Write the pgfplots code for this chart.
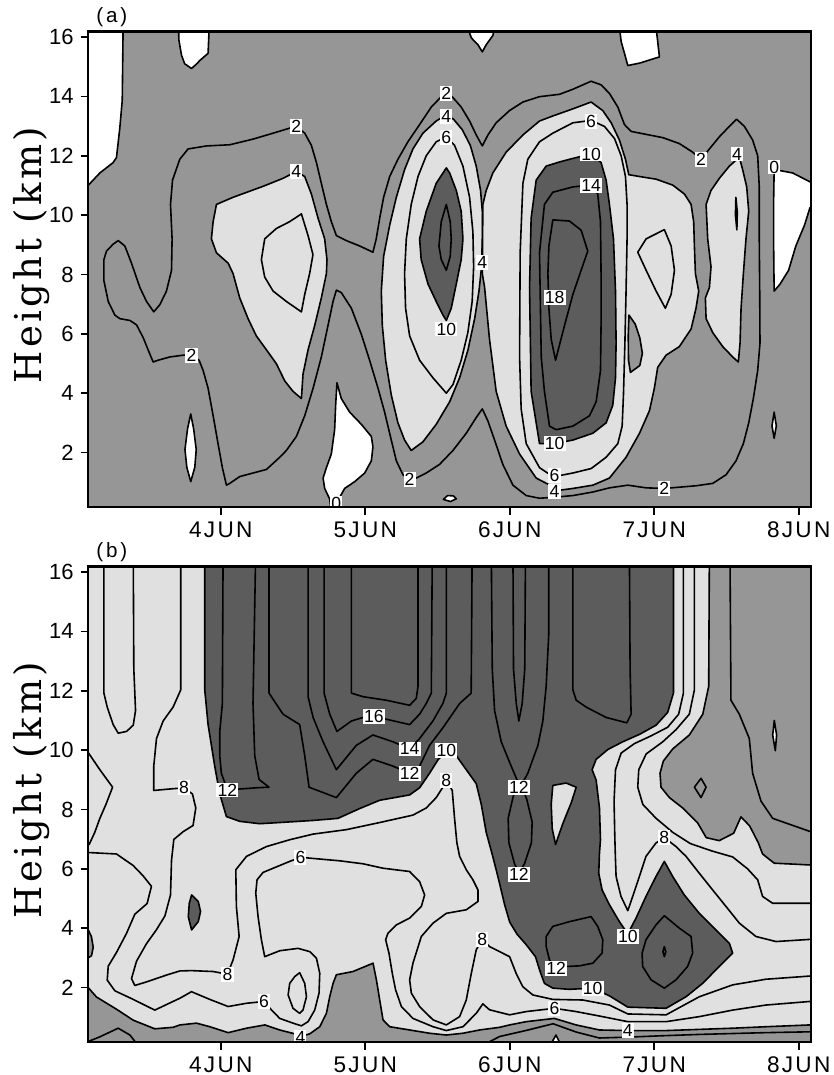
\documentclass[border=0pt]{standalone}
\usepackage{fontspec}
\setmainfont{Liberation Sans}
\newfontfamily\ylabfont[LetterSpace=9]{DejaVu Serif}
\newfontfamily\panfont[LetterSpace=14]{Liberation Sans}
\newfontfamily\xtickfont[LetterSpace=10]{Liberation Sans}
\usepackage{pgfplots}
\pgfplotsset{compat=1.18}
\definecolor{cLight}{gray}{0.88}
\definecolor{cMed}{gray}{0.59}
\definecolor{cDark}{gray}{0.36}
\tikzset{
 reg/.style={draw=black, line width=0.8pt, line join=round},
 ln/.style={draw=black, line width=0.8pt, line join=round},
 clab/.style={fill=white, inner sep=0.6pt, font=\fontsize{8.8}{10}\selectfont},
}
\pgfplotsset{
 panel/.style={
   scale only axis, width=361.2pt, height=237.8pt,
   xmin=3.083, xmax=8.083, ymin=0.155, ymax=16.18,
   xtick={4,5,6,7,8}, xticklabels={4JUN,5JUN,6JUN,7JUN,8JUN},
   ytick={2,4,6,8,10,12,14,16}, yticklabels={2,4,6,8,10,12,14,16},
   xtick pos=bottom, ytick pos=left, tick align=outside,
   major tick length=3.8pt,
   every tick/.style={black, line width=0.8pt},
   axis line style={line width=1.2pt},
   yticklabel style={font=\fontsize{11}{13}\selectfont},
   xticklabel style={font=\xtickfont\fontsize{11.3}{13}\selectfont},
   ylabel={\ylabfont\fontsize{18.5}{22}\selectfont Height (km)},
   ylabel style={at={(axis description cs:-0.078,0.53)}, anchor=center},
   axis on top, anchor=south west,
 },
}
\begin{document}
\begin{tikzpicture}
\path[use as bounding box] (0,0) rectangle (417pt,537.5pt);
%================ PANEL A =================
\begin{axis}[panel, name=pa, at={(44.15pt,283.85pt)}, axis background/.style={fill=cMed}]
% light regions (4 contour)
\addplot[reg, fill=cLight] coordinates {(3.970,10.36) (4.085,10.60) (4.293,10.97) (4.431,11.24) (4.523,11.47) (4.581,11.30) (4.627,10.71) (4.673,9.90) (4.719,9.20) (4.735,8.50) (4.731,8.03) (4.696,7.21) (4.650,6.28) (4.604,5.46) (4.569,4.64) (4.558,3.82) (4.500,4.06) (4.443,4.41) (4.385,4.99) (4.316,5.46) (4.246,5.93) (4.189,6.51) (4.131,7.21) (4.085,8.03) (4.051,8.38) (3.970,8.73) (3.935,9.20) (3.947,9.78)} -- cycle;
\addplot[reg, fill=cLight] coordinates {(5.561,13.38) (5.491,13.17) (5.399,12.76) (5.330,12.23) (5.272,11.53) (5.215,10.60) (5.169,9.66) (5.127,8.61) (5.111,7.44) (5.118,6.28) (5.141,5.11) (5.180,3.94) (5.226,3.00) (5.272,2.42) (5.318,2.07) (5.399,2.36) (5.491,2.95) (5.584,3.71) (5.653,4.52) (5.711,5.46) (5.757,6.51) (5.787,7.44) (5.805,8.26) (5.810,9.20) (5.810,10.13) (5.798,10.83) (5.768,11.65) (5.727,12.35) (5.671,12.88) (5.611,13.23)} -- cycle;
\addplot[reg, fill=cLight] coordinates {(5.810,8.03) (5.826,7.56) (5.860,5.81) (5.906,4.06) (5.975,2.89) (6.068,1.95) (6.183,1.14) (6.345,0.73) (6.437,0.79) (6.575,0.90) (6.690,1.14) (6.805,1.84) (6.898,2.65) (6.967,3.41) (7.001,4.17) (7.024,4.87) (7.082,5.28) (7.174,5.57) (7.255,6.16) (7.289,6.86) (7.308,7.44) (7.285,8.03) (7.278,8.96) (7.273,9.78) (7.255,10.36) (7.209,10.71) (7.128,11.01) (7.013,11.21) (6.898,11.30) (6.824,11.36) (6.801,11.88) (6.759,12.53) (6.702,13.11) (6.644,13.52) (6.563,13.81) (6.437,13.58) (6.298,13.34) (6.206,13.17) (6.091,12.70) (5.975,12.12) (5.883,11.42) (5.837,10.83) (5.814,10.36) (5.812,9.20)} -- cycle;
\addplot[reg, fill=cLight] coordinates {(7.589,11.95) (7.520,11.65) (7.451,11.24) (7.393,10.83) (7.359,10.36) (7.370,9.20) (7.393,8.26) (7.382,7.56) (7.354,7.21) (7.359,6.51) (7.405,6.04) (7.474,5.57) (7.543,5.22) (7.582,5.05) (7.594,5.69) (7.601,6.86) (7.617,8.03) (7.635,9.20) (7.654,10.13) (7.640,10.95) (7.612,11.53)} -- cycle;
% dark regions (10 contour)
\addplot[reg, fill=cDark] coordinates {(5.561,11.59) (5.491,11.07) (5.422,10.13) (5.376,9.20) (5.387,8.50) (5.434,7.68) (5.491,7.09) (5.538,6.63) (5.561,6.45) (5.595,6.86) (5.630,7.68) (5.664,8.50) (5.676,9.20) (5.664,10.13) (5.630,10.83) (5.584,11.42)} -- cycle;
\addplot[reg, fill=cDark] coordinates {(6.252,11.65) (6.344,11.79) (6.437,11.91) (6.563,12.06) (6.632,11.77) (6.667,11.18) (6.690,10.36) (6.718,9.20) (6.732,7.44) (6.736,5.69) (6.732,4.52) (6.713,3.59) (6.667,3.00) (6.575,2.65) (6.437,2.42) (6.310,2.30) (6.206,2.30) (6.148,4.06) (6.137,7.56) (6.148,9.90) (6.183,11.18)} -- cycle;
% medium patch
\addplot[reg, fill=cMed] coordinates {(6.825,6.63) (6.868,6.33) (6.900,5.87) (6.918,5.34) (6.900,4.93) (6.835,4.70) (6.822,5.11) (6.820,5.93)} -- cycle;
% white regions (0 contour)
\addplot[reg, fill=white] coordinates {(3.0,16.8) (3.0,10.95) (3.082,11.0) (3.163,11.42) (3.255,11.77) (3.278,11.94) (3.301,12.93) (3.318,13.87) (3.325,16.8)} -- cycle;
\addplot[reg, fill=white] coordinates {(3.705,16.8) (3.71,15.9) (3.728,15.39) (3.75,15.1) (3.797,14.94) (3.83,15.08) (3.855,15.21) (3.912,15.45) (3.924,16.8)} -- cycle;
\addplot[reg, fill=white] coordinates {(3.792,3.30) (3.812,2.8) (3.83,2.1) (3.82,1.5) (3.792,1.02) (3.765,1.5) (3.752,2.1) (3.77,2.8)} -- cycle;
\addplot[reg, fill=white] coordinates {(4.804,4.35) (4.834,3.82) (4.892,3.36) (4.973,2.95) (5.042,2.54) (5.053,2.19) (5.042,1.72) (4.996,1.31) (4.927,1.02) (4.857,0.79) (4.823,0.49) (4.811,-0.5) (4.777,-0.5) (4.754,0.43) (4.719,0.79) (4.708,1.14) (4.731,1.49) (4.765,1.95) (4.788,2.77) (4.795,3.59)} -- cycle;
\addplot[reg, fill=white] coordinates {(5.54,0.42) (5.57,0.55) (5.61,0.54) (5.63,0.44) (5.59,0.35)} -- cycle;
\addplot[reg, fill=white] coordinates {(5.676,16.8) (5.734,15.97) (5.78,15.74) (5.81,15.5) (5.837,15.74) (5.883,16.05) (5.918,16.8)} -- cycle;
\addplot[reg, fill=white] coordinates {(6.748,16.8) (6.771,15.85) (6.794,15.45) (6.817,15.04) (6.898,15.12) (7.036,15.33) (7.024,15.85) (7.001,16.8)} -- cycle;
\addplot[reg, fill=white] coordinates {(7.83,11.53) (7.87,11.5) (7.958,11.42) (8.078,11.12) (8.2,11.1) (8.2,10.25) (8.078,10.25) (8.04,9.66) (7.98,8.96) (7.93,8.14) (7.87,7.67) (7.83,7.44) (7.828,8.26) (7.826,9.2) (7.826,10.36)} -- cycle;
\addplot[reg, fill=white] coordinates {(7.83,3.36) (7.845,2.9) (7.83,2.48) (7.815,2.9)} -- cycle;
% contour lines
\addplot[ln] coordinates {(3.774,12.23) (3.901,12.33) (4.062,12.37) (4.223,12.56) (4.362,12.76) (4.477,12.93) (4.523,12.99) (4.581,12.76) (4.627,12.35) (4.662,11.77) (4.696,11.07) (4.731,10.36) (4.765,9.78) (4.800,9.31) (4.869,9.14) (4.961,8.96) (5.053,8.75) (5.076,9.20) (5.100,9.90) (5.127,10.60) (5.169,11.30) (5.226,11.88) (5.295,12.47) (5.376,13.05) (5.457,13.64) (5.526,13.99) (5.561,14.10) (5.607,13.96) (5.664,13.64) (5.722,13.17) (5.768,12.70) (5.810,12.33) (5.849,12.70) (5.906,13.11) (5.998,13.52) (6.091,13.81) (6.206,13.99) (6.344,14.07) (6.437,14.24) (6.563,14.51) (6.632,14.39) (6.690,14.10) (6.748,13.64) (6.794,13.05) (6.840,12.82) (6.944,12.72) (7.059,12.61) (7.174,12.41) (7.266,12.12) (7.324,11.88) (7.382,12.23) (7.451,12.64) (7.520,12.99) (7.570,13.23) (7.624,12.99) (7.681,12.53) (7.716,12.00) (7.727,10.95) (7.727,9.20) (7.730,7.44) (7.732,5.69) (7.716,4.76) (7.686,3.82) (7.654,3.00) (7.617,2.30) (7.566,1.72) (7.497,1.25) (7.405,0.96) (7.289,0.88) (7.070,0.79) (6.944,0.81) (6.817,0.90) (6.690,0.81) (6.575,0.67) (6.437,0.55) (6.298,0.49) (6.206,0.46) (6.114,0.55) (6.022,0.90) (5.952,1.60) (5.895,2.42) (5.849,3.06) (5.810,3.47) (5.768,3.18) (5.699,2.65) (5.607,2.07) (5.514,1.60) (5.422,1.31) (5.353,1.14) (5.307,1.08) (5.261,1.25) (5.215,1.72) (5.180,2.42) (5.134,3.36) (5.088,4.17) (5.030,5.11) (4.973,5.98) (4.904,6.86) (4.834,7.39) (4.800,7.47) (4.777,7.09) (4.742,6.28) (4.696,5.22) (4.639,4.17) (4.581,3.24) (4.523,2.54) (4.454,2.07) (4.408,1.84) (4.316,1.43) (4.223,1.31) (4.131,1.19) (4.062,0.96) (4.039,0.90) (4.011,1.49) (3.981,2.30) (3.947,3.24) (3.912,4.17) (3.878,4.76) (3.850,5.11) (3.797,5.28) (3.739,5.28) (3.647,5.22) (3.566,5.11) (3.532,5.05) (3.497,5.46) (3.463,5.87) (3.417,6.30) (3.371,6.45) (3.302,6.51) (3.267,6.63) (3.221,7.09) (3.191,7.79) (3.191,8.50) (3.209,8.79) (3.255,9.02) (3.290,9.14) (3.336,8.96) (3.382,8.38) (3.440,7.56) (3.486,7.09) (3.536,6.74) (3.578,6.98) (3.624,7.44) (3.659,8.14) (3.663,9.20) (3.652,10.36) (3.666,11.18) (3.716,11.88)} -- cycle;
\addplot[ln] coordinates {(4.281,8.50) (4.304,9.20) (4.385,9.55) (4.477,9.78) (4.558,10.04) (4.604,9.31) (4.638,8.67) (4.615,8.03) (4.581,7.33) (4.558,6.74) (4.454,7.09) (4.362,7.44) (4.304,7.91)} -- cycle;
\addplot[ln] coordinates {(5.561,12.64) (5.491,12.47) (5.422,12.00) (5.365,11.30) (5.318,10.36) (5.284,9.20) (5.272,8.03) (5.279,6.86) (5.307,5.93) (5.376,5.11) (5.468,4.52) (5.561,4.00) (5.607,4.29) (5.664,5.11) (5.710,6.04) (5.740,7.09) (5.750,8.26) (5.745,9.43) (5.722,10.60) (5.676,11.65) (5.618,12.35)} -- cycle;
\addplot[ln] coordinates {(5.561,10.36) (5.526,9.78) (5.510,8.96) (5.526,8.50) (5.561,8.14) (5.588,8.61) (5.595,9.20) (5.588,9.78)} -- cycle;
\addplot[ln] coordinates {(6.206,12.47) (6.125,11.88) (6.091,11.07) (6.072,8.73) (6.068,5.22) (6.079,3.47) (6.114,2.30) (6.206,1.49) (6.298,1.19) (6.310,1.19) (6.437,1.31) (6.563,1.46) (6.667,1.84) (6.748,2.30) (6.778,2.89) (6.787,3.94) (6.797,5.69) (6.805,7.44) (6.812,9.20) (6.812,10.36) (6.801,11.30) (6.771,12.00) (6.725,12.58) (6.655,12.99) (6.563,13.19) (6.437,13.11) (6.298,12.76)} -- cycle;
\addplot[ln] coordinates {(6.240,10.36) (6.206,8.73) (6.218,5.22) (6.240,4.06) (6.275,2.89) (6.321,2.77) (6.437,2.89) (6.552,3.24) (6.598,3.71) (6.628,4.76) (6.632,6.28) (6.632,8.03) (6.628,9.78) (6.609,10.71) (6.563,11.01) (6.437,10.95) (6.298,10.77)} -- cycle;
\addplot[ln] coordinates {(6.298,9.84) (6.413,9.80) (6.494,9.49) (6.540,8.79) (6.494,8.14) (6.437,7.33) (6.379,6.28) (6.317,5.11) (6.287,5.81) (6.271,6.86) (6.264,8.03) (6.271,8.96)} -- cycle;
\addplot[ln] coordinates {(6.886,8.75) (6.944,9.20) (7.070,9.51) (7.117,8.96) (7.140,8.14) (7.117,7.33) (7.077,6.86) (7.013,7.44) (6.944,8.14)} -- cycle;
\addplot[ln] coordinates {(7.565,10.6) (7.575,10.1) (7.572,9.5) (7.562,10.0)} -- cycle;
% labels
\node[clab] at (axis cs:4.523,12.99) {2};
\node[clab] at (axis cs:5.561,14.10) {2};
\node[clab] at (axis cs:7.324,11.88) {2};
\node[clab] at (axis cs:7.070,0.79) {2};
\node[clab] at (axis cs:5.307,1.08) {2};
\node[clab] at (axis cs:3.797,5.28) {2};
\node[clab] at (axis cs:4.523,11.47) {4};
\node[clab] at (axis cs:5.561,13.32) {4};
\node[clab] at (axis cs:5.810,8.40) {4};
\node[clab] at (axis cs:7.573,12.06) {4};
\node[clab] at (axis cs:6.310,0.68) {4};
\node[clab] at (axis cs:5.561,12.62) {6};
\node[clab] at (axis cs:6.563,13.15) {6};
\node[clab] at (axis cs:6.310,1.22) {6};
\node[clab] at (axis cs:5.561,6.16) {10};
\node[clab] at (axis cs:6.563,12.06) {10};
\node[clab] at (axis cs:6.310,2.30) {10};
\node[clab] at (axis cs:6.563,11.00) {14};
\node[clab] at (axis cs:6.310,7.21) {18};
\node[clab] at (axis cs:7.831,11.62) {0};
\node[clab] at (axis cs:4.800,0.30) {0};
\end{axis}
\node[anchor=south west, inner sep=0pt, font=\panfont\fontsize{10.3}{11}\selectfont] at ([xshift=3.8pt,yshift=2.5pt]pa.north west) {(a)};
%================ PANEL B =================
\begin{axis}[panel, name=pb, at={(44.15pt,16.35pt)}, axis background/.style={fill=cLight}]
% dark main region (10 contour)
\addplot[reg, fill=cDark] coordinates {(3.889,16.8) (3.889,12.03) (3.912,10.86) (3.958,9.46) (3.993,8.52) (4.039,7.76) (4.131,7.60) (4.269,7.52) (4.408,7.56) (4.639,7.63) (4.811,7.70) (4.961,8.03) (5.100,8.31) (5.307,8.49) (5.376,8.73) (5.445,9.22) (5.503,9.67) (5.561,9.97) (5.630,9.81) (5.699,9.34) (5.768,8.87) (5.803,8.17) (5.837,7.23) (5.883,6.41) (5.930,5.50) (5.964,4.80) (6.000,4.20) (6.050,3.80) (6.113,3.45) (6.178,3.04) (6.210,2.54) (6.240,2.14) (6.298,1.98) (6.413,1.94) (6.574,1.98) (6.690,1.72) (6.817,1.34) (7.082,1.30) (7.220,1.69) (7.335,2.14) (7.450,2.71) (7.543,3.16) (7.520,3.49) (7.428,3.94) (7.312,4.50) (7.208,5.12) (7.128,5.74) (7.070,6.25) (7.012,5.74) (6.943,5.07) (6.874,4.34) (6.817,3.81) (6.759,4.22) (6.690,4.79) (6.639,5.29) (6.616,5.85) (6.621,6.53) (6.628,6.98) (6.621,8.05) (6.598,8.99) (6.570,9.34) (6.598,9.69) (6.679,10.02) (6.782,10.28) (6.898,10.53) (7.013,10.84) (7.093,11.27) (7.133,11.92) (7.133,16.8)} -- cycle;
\addplot[reg, fill=cLight] coordinates {(6.298,8.81) (6.390,8.89) (6.460,8.75) (6.425,8.22) (6.367,7.52) (6.317,6.82) (6.294,7.35) (6.287,8.17)} -- cycle;
\addplot[reg, fill=cDark] coordinates {(3.798,5.12) (3.844,4.90) (3.860,4.56) (3.844,4.22) (3.798,3.94) (3.775,4.39) (3.782,4.84)} -- cycle;
% medium regions (4 contour)
\addplot[reg, fill=cMed] coordinates {(7.382,16.8) (7.377,12.15) (7.336,11.21) (7.243,10.51) (7.128,10.04) (7.063,9.63) (7.040,9.22) (7.047,8.75) (7.105,8.40) (7.197,8.05) (7.30,7.55) (7.36,7.05) (7.45,6.95) (7.55,7.2) (7.60,7.75) (7.66,7.45) (7.72,6.88) (7.75,6.5) (7.83,6.19) (8.078,6.13) (8.2,6.13) (8.2,16.8)} -- cycle;
\addplot[reg, fill=cMed] coordinates {(3.0,2.0) (3.082,2.0) (3.140,1.68) (3.278,1.27) (3.394,0.90) (3.543,0.61) (3.670,0.66) (3.717,0.74) (3.832,0.80) (3.924,0.68) (4.051,0.48) (4.178,0.63) (4.305,0.74) (4.408,0.57) (4.512,0.44) (4.551,0.35) (4.616,0.44) (4.685,0.68) (4.731,1.13) (4.754,1.69) (4.777,2.14) (4.800,2.43) (4.915,2.54) (5.054,2.82) (5.077,2.26) (5.100,1.58) (5.123,0.91) (5.169,0.68) (5.307,0.57) (5.445,0.46) (5.561,0.40) (5.676,0.46) (5.791,0.57) (5.930,0.66) (5.999,0.74) (6.113,0.85) (6.309,0.96) (6.459,0.74) (6.621,0.57) (6.817,0.55) (7.082,0.55) (7.312,0.59) (7.543,0.63) (7.773,0.68) (8.078,0.74) (8.2,0.74) (8.2,-0.5) (3.0,-0.5)} -- cycle;
\addplot[reg, fill=cMed] coordinates {(3.0,3.95) (3.082,3.95) (3.105,3.71) (3.117,3.36) (3.105,3.07) (3.082,3.0) (3.0,3.0)} -- cycle;
% white
\addplot[reg, fill=white] coordinates {(7.831,11.00) (7.847,10.51) (7.838,9.98) (7.820,10.51)} -- cycle;
\addplot[reg, fill=white] coordinates {(6.25,-0.2) (6.32,0.40) (6.38,-0.2)} -- cycle;
% lines
\addplot[ln] coordinates {(3.0,0.18) (3.082,0.18) (3.163,0.34) (3.290,0.63) (3.371,0.40) (3.452,-0.1)};
\addplot[ln] coordinates {(5.75,-0.1) (5.93,0.35) (6.11,0.55) (6.30,0.78) (6.46,0.50) (6.62,0.30) (6.82,0.33) (7.08,0.38) (7.31,0.42) (7.54,0.45) (7.77,0.48) (8.2,0.52)};
\addplot[ln] coordinates {(7.524,16.8) (7.531,11.68) (7.589,11.21) (7.658,10.39) (7.681,9.22) (7.739,8.28) (7.820,7.70) (8.2,7.05)};
\addplot[ln] coordinates {(7.324,9.05) (7.359,8.75) (7.324,8.40) (7.278,8.75)} -- cycle;
\addplot[ln] coordinates {(3.191,16.8) (3.191,11.92) (3.214,11.45) (3.255,10.86) (3.290,10.57) (3.348,10.63) (3.394,10.84) (3.410,11.33) (3.398,12.74) (3.394,16.8)};
\addplot[ln] coordinates {(3.0,9.92) (3.082,9.92) (3.163,9.34) (3.251,8.75) (3.205,8.17) (3.163,7.70) (3.128,7.23) (3.089,6.82) (3.0,6.82)};
\addplot[ln] coordinates {(3.723,16.8) (3.723,12.03) (3.670,11.45) (3.601,10.98) (3.555,10.39) (3.536,9.46) (3.536,8.64) (3.647,8.69) (3.746,8.73) (3.804,8.52) (3.827,8.05) (3.808,7.46) (3.739,7.25) (3.675,6.99) (3.659,6.29) (3.652,5.12) (3.613,4.41) (3.555,3.95) (3.486,3.48) (3.417,2.89) (3.382,2.30) (3.405,2.07) (3.486,2.19) (3.624,2.42) (3.717,2.56) (3.797,2.57) (3.947,2.54) (4.046,2.45) (4.085,2.93) (4.127,3.72) (4.108,4.73) (4.104,5.97) (4.178,6.42) (4.316,6.75) (4.477,6.98) (4.639,7.17) (4.869,7.32) (5.100,7.56) (5.330,7.81) (5.422,8.05) (5.491,8.40) (5.537,8.75) (5.561,8.99) (5.602,8.64) (5.618,7.70) (5.634,6.88) (5.653,6.42) (5.699,5.97) (5.745,5.63) (5.780,5.29) (5.780,4.90) (5.699,4.62) (5.561,4.50) (5.469,4.17) (5.388,3.72) (5.330,2.82) (5.307,2.26) (5.319,1.81) (5.376,1.36) (5.469,0.91) (5.561,0.74) (5.653,1.02) (5.699,1.58) (5.734,2.48) (5.768,3.27) (5.810,3.63) (5.860,3.38) (5.999,3.04) (6.044,2.48) (6.090,2.03) (6.160,1.75) (6.298,1.60) (6.505,1.58) (6.690,1.41) (6.817,1.11) (7.082,1.08) (7.312,1.69) (7.543,2.09) (7.773,2.28) (8.2,2.43)};
\addplot[ln] coordinates {(3.0,6.55) (3.082,6.55) (3.278,6.50) (3.394,6.11) (3.463,5.76) (3.520,5.41) (3.490,4.83) (3.405,4.47) (3.348,3.83) (3.278,3.18) (3.221,2.72) (3.214,2.25) (3.267,1.89) (3.394,1.60) (3.543,1.24) (3.717,1.64) (3.797,1.86) (3.924,1.60) (4.051,1.36) (4.178,1.47) (4.300,1.53) (4.350,1.25) (4.408,0.96) (4.500,0.80) (4.558,0.71) (4.604,0.85) (4.650,1.24) (4.680,1.81) (4.685,2.48) (4.662,2.99) (4.616,3.21) (4.535,3.32) (4.408,3.24) (4.304,3.04) (4.281,3.61) (4.258,4.39) (4.242,5.18) (4.251,5.63) (4.293,5.88) (4.477,6.25) (4.551,6.39) (4.616,6.36) (4.823,6.27) (4.984,6.17) (5.123,6.02) (5.307,5.91) (5.376,5.57) (5.411,5.12) (5.388,4.73) (5.307,4.34) (5.215,4.11) (5.157,3.83) (5.141,3.61) (5.164,3.16) (5.187,2.48) (5.210,1.92) (5.250,1.36) (5.330,0.96) (5.469,0.68) (5.561,0.55) (5.676,0.68) (5.768,1.13) (5.814,1.45) (5.860,1.25) (5.999,1.08) (6.113,1.19) (6.309,1.30) (6.459,1.19) (6.621,1.04) (6.817,0.85) (7.082,0.85) (7.312,1.02) (7.543,1.24) (7.773,1.41) (8.2,1.58)};
\addplot[ln] coordinates {(4.546,2.50) (4.581,2.14) (4.593,1.69) (4.569,1.24) (4.546,1.13) (4.500,1.30) (4.466,1.75) (4.477,2.14) (4.512,2.37)} -- cycle;
\addplot[ln] coordinates {(4.334,16.8) (4.334,11.92) (4.431,11.21) (4.546,10.86) (4.581,9.81) (4.611,8.75) (4.800,8.40) (4.938,9.22) (5.053,9.69) (5.192,9.46) (5.307,9.22) (5.376,9.46) (5.445,10.16) (5.537,10.75) (5.653,11.57) (5.733,11.92) (5.740,16.8)};
\addplot[ln] coordinates {(4.604,16.8) (4.604,11.80) (4.639,11.10) (4.708,10.28) (4.800,9.34) (4.938,10.16) (5.053,10.51) (5.192,10.28) (5.307,10.04) (5.376,10.39) (5.468,10.98) (5.537,11.57) (5.561,11.92) (5.561,16.8)};
\addplot[ln] coordinates {(4.715,16.8) (4.715,11.92) (4.754,11.21) (4.804,10.63) (4.904,10.98) (4.984,11.10) (5.060,11.13) (5.146,11.04) (5.307,10.86) (5.376,11.21) (5.422,11.57) (5.457,11.92) (5.464,16.8)};
\addplot[ln] coordinates {(4.904,16.8) (4.904,11.92) (4.984,11.80) (5.146,11.68) (5.307,11.51) (5.353,11.74) (5.365,12.15) (5.365,16.8)};
\addplot[ln] coordinates {(5.872,16.8) (5.879,12.74) (5.895,11.33) (5.941,10.28) (6.010,9.46) (6.056,8.93) (6.022,8.40) (5.989,7.70) (5.994,6.88) (6.033,6.17) (6.063,5.88) (6.102,6.17) (6.150,6.88) (6.155,7.58) (6.118,8.34) (6.079,8.81) (6.125,9.22) (6.195,10.16) (6.229,10.98) (6.252,12.15) (6.270,13.91) (6.270,16.8)};
\addplot[ln] coordinates {(6.022,16.8) (6.026,12.74) (6.045,11.57) (6.063,10.98) (6.086,11.57) (6.104,12.74) (6.109,16.8)};
\addplot[ln] coordinates {(4.016,16.8) (4.011,11.57) (3.993,10.63) (3.993,9.81) (4.004,9.22) (4.046,8.66) (4.131,8.69) (4.246,8.73) (4.334,8.75) (4.265,9.01) (4.235,9.81) (4.223,11.57) (4.242,16.8)};
\addplot[ln] coordinates {(6.437,16.8) (6.437,12.03) (6.460,11.68) (6.529,11.45) (6.667,11.10) (6.810,10.92) (6.840,11.21) (6.833,12.74) (6.828,16.8)};
\addplot[ln] coordinates {(7.278,16.8) (7.278,12.03) (7.243,11.21) (7.151,10.69) (7.059,10.28) (6.944,9.87) (6.893,9.34) (6.886,8.75) (6.921,8.17) (7.013,7.70) (7.128,7.23) (7.25,6.85) (7.40,6.6) (7.543,6.4) (7.646,6.0) (7.716,5.63) (7.750,5.07) (7.819,4.84) (8.2,4.84)};
\addplot[ln] coordinates {(7.202,16.8) (7.202,11.92) (7.169,11.21) (7.093,10.77) (6.978,10.48) (6.863,10.22) (6.771,9.90) (6.732,9.34) (6.722,8.28) (6.727,7.11) (6.731,6.42) (6.736,5.74) (6.770,5.07) (6.817,4.59) (6.851,5.07) (6.897,5.74) (6.943,6.42) (7.012,6.87) (7.07,7.05) (7.151,6.75) (7.220,6.42) (7.312,5.85) (7.404,5.29) (7.497,4.73) (7.589,4.17) (7.704,3.72) (7.842,3.55) (8.2,3.66)};
\addplot[ln] coordinates {(6.252,3.72) (6.298,4.06) (6.413,4.22) (6.563,4.39) (6.609,4.06) (6.644,3.61) (6.639,3.16) (6.575,2.82) (6.482,2.73) (6.390,2.71) (6.321,2.65) (6.275,2.93) (6.252,3.38)} -- cycle;
\addplot[ln] coordinates {(7.070,4.42) (7.174,4.00) (7.255,3.72) (7.266,3.16) (7.231,2.71) (7.151,2.26) (7.070,1.98) (6.978,2.26) (6.920,2.71) (6.916,3.16) (6.943,3.61) (7.012,4.11)} -- cycle;
\addplot[ln] coordinates {(7.07,3.38) (7.08,3.21) (7.07,3.04) (7.06,3.21)} -- cycle;
% labels
\node[clab] at (axis cs:3.746,8.73) {8};
\node[clab] at (axis cs:4.046,2.45) {8};
\node[clab] at (axis cs:5.561,8.99) {8};
\node[clab] at (axis cs:5.810,3.63) {8};
\node[clab] at (axis cs:7.07,7.05) {8};
\node[clab] at (axis cs:4.551,6.39) {6};
\node[clab] at (axis cs:4.300,1.53) {6};
\node[clab] at (axis cs:6.309,1.30) {6};
\node[clab] at (axis cs:4.551,0.33) {4};
\node[clab] at (axis cs:6.817,0.55) {4};
\node[clab] at (axis cs:5.561,10.0) {10};
\node[clab] at (axis cs:6.817,3.72) {10};
\node[clab] at (axis cs:6.574,1.98) {10};
\node[clab] at (axis cs:4.046,8.66) {12};
\node[clab] at (axis cs:5.307,9.22) {12};
\node[clab] at (axis cs:6.063,8.75) {12};
\node[clab] at (axis cs:6.063,5.82) {12};
\node[clab] at (axis cs:6.321,2.65) {12};
\node[clab] at (axis cs:5.307,10.04) {14};
\node[clab] at (axis cs:5.060,11.13) {16};
\end{axis}
\node[anchor=south west, inner sep=0pt, font=\panfont\fontsize{10.3}{11}\selectfont] at ([xshift=3.8pt,yshift=2.5pt]pb.north west) {(b)};
\end{tikzpicture}
\end{document}
